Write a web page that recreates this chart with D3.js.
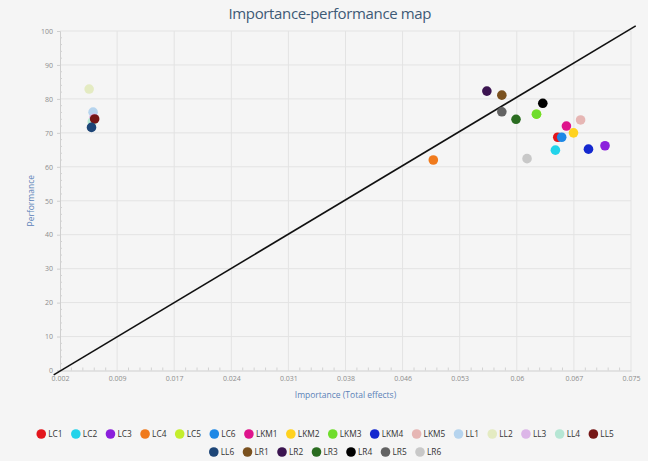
<!DOCTYPE html>
<html>
<head>
<meta charset="utf-8">
<script src="https://cdn.jsdelivr.net/npm/d3@7/dist/d3.min.js"></script>
<style>
  html, body { margin: 0; padding: 0; background: #f5f5f5; }
  svg { display: block; font-family: "Open Sans", "Noto Sans", sans-serif; }
</style>
</head>
<body>
<svg id="chart" width="648" height="461"></svg>
<script>
const seriesNames = ["LC1","LC2","LC3","LC4","LC5","LC6","LKM1","LKM2","LKM3","LKM4","LKM5","LL1","LL2","LL3","LL4","LL5","LL6","LR1","LR2","LR3","LR4","LR5","LR6"];
const seriesColors = ["#e3161c","#22d3ea","#8b1fdc","#f07a1c","#c4ee2c","#1e88e6","#de148c","#ffd21f","#6fdd2b","#1428cf","#e6b6b4","#b6d4ee","#e4ebc2","#dcb6e8","#b6e6d4","#751616","#1d4577","#7a511f","#3b1450","#2a6c20","#000000","#626262","#c8c8c8"];
const importance = [0.0653,0.0650,0.0713,0.0495,0.0626,0.0658,0.0664,0.0673,0.0626,0.0692,0.0682,0.0063,0.0058,0.0064,0.0062,0.0065,0.0061,0.0582,0.0563,0.0600,0.0634,0.0582,0.0614];
const performance = [68.7,64.9,66.2,62.0,75.5,68.7,72.0,70.0,75.5,65.2,73.8,76.1,82.9,74.3,73.2,74.1,71.6,81.1,82.3,74.0,78.7,76.2,62.4];
const xDomain = [0.0021, 0.0746];
const yDomain = [0, 100];
const xTickLabels = ["0.002","0.009","0.017","0.024","0.031","0.038","0.046","0.053","0.06","0.067","0.075"];
const yTickLabels = ["0","10","20","30","40","50","60","70","80","90","100"];
const diagonalX = [0.0013, 0.0752];
const diagonalY = [-1.3, 101.5];

const svg = d3.select("#chart");
const W = 648, H = 461;
const m = {left: 60, right: 17, top: 31, bottom: 90.5};
const x = d3.scaleLinear().domain(xDomain).range([m.left, W - m.right]);
const y = d3.scaleLinear().domain(yDomain).range([H - m.bottom, m.top]);

const nX = xTickLabels.length - 1;
const xTicks = d3.range(xTickLabels.length).map(i => xDomain[0] + (xDomain[1] - xDomain[0]) * i / nX);
const yTicks = yTickLabels.map(Number);
const xMinor = [];
for (let i = 0; i < nX; i++) for (let k = 1; k < 5; k++) xMinor.push(xTicks[i] + (xTicks[i+1] - xTicks[i]) * k / 5);
const yMinor = [];
for (let i = 0; i < yTicks.length - 1; i++) for (let k = 1; k < 5; k++) yMinor.push(yTicks[i] + (yTicks[i+1] - yTicks[i]) * k / 5);

// title
svg.append("text").attr("x", 330).attr("y", 19).attr("text-anchor", "middle")
  .attr("font-size", 15).attr("fill", "#3e5a76").attr("textLength", 203).text("Importance-performance map");

// grid
const grid = svg.append("g");
grid.selectAll("line.gx").data(xTicks.slice(1)).join("line")
  .attr("x1", d => x(d)).attr("x2", d => x(d)).attr("y1", y(100)).attr("y2", y(0))
  .attr("stroke", "#e3e3e3").attr("stroke-width", 1);
grid.selectAll("line.gy").data(yTicks.slice(1)).join("line")
  .attr("y1", d => y(d)).attr("y2", d => y(d)).attr("x1", x(xDomain[0])).attr("x2", x(xDomain[1]))
  .attr("stroke", "#e3e3e3").attr("stroke-width", 1);

// axes
const xAxis = d3.axisBottom(x).tickValues(xTicks).tickSize(0).tickPadding(6)
  .tickFormat((d, i) => xTickLabels[i]);
const gx = svg.append("g").attr("transform", `translate(0,${y(0)})`).call(xAxis);
gx.select(".domain").attr("stroke", "#cfcfcf");
gx.selectAll("text").attr("fill", "#8d8d8d").attr("font-size", 7).attr("font-family", "Open Sans, sans-serif");
gx.selectAll("line.minor").data(xMinor).join("line").attr("class", "minor")
  .attr("x1", d => x(d)).attr("x2", d => x(d)).attr("y1", 0).attr("y2", -3).attr("stroke", "#d2d2d2");

const yAxis = d3.axisLeft(y).tickValues(yTicks).tickSize(3).tickPadding(4)
  .tickFormat((d, i) => yTickLabels[i]);
const gy = svg.append("g").attr("transform", `translate(${x(xDomain[0])},0)`).call(yAxis);
gy.select(".domain").attr("stroke", "#cfcfcf");
gy.selectAll(".tick line").attr("stroke", "#cfcfcf");
gy.selectAll("text").attr("fill", "#8d8d8d").attr("font-size", 7).attr("font-family", "Open Sans, sans-serif");
gy.selectAll("line.minor").data(yMinor).join("line").attr("class", "minor")
  .attr("y1", d => y(d)).attr("y2", d => y(d)).attr("x1", 0).attr("x2", 2).attr("stroke", "#d2d2d2");

// axis titles
svg.append("text").attr("x", (x(xDomain[0]) + x(xDomain[1])) / 2).attr("y", 398)
  .attr("text-anchor", "middle").attr("font-size", 8.5).attr("fill", "#5a82b8")
  .text("Importance (Total effects)");
svg.append("text").attr("transform", `translate(34,${(y(0)+y(100))/2}) rotate(-90)`)
  .attr("text-anchor", "middle").attr("font-size", 8.5).attr("fill", "#5a82b8")
  .text("Performance");

// diagonal
svg.append("line")
  .attr("x1", x(diagonalX[0])).attr("y1", y(diagonalY[0]))
  .attr("x2", x(diagonalX[1])).attr("y2", y(diagonalY[1]))
  .attr("stroke", "#111").attr("stroke-width", 1.6);

// points
const pts = seriesNames.map((n, i) => ({name: n, color: seriesColors[i], x: importance[i], y: performance[i]}));
svg.append("g").selectAll("circle").data(pts).join("circle")
  .attr("cx", d => x(d.x)).attr("cy", d => y(d.y)).attr("r", 4.8)
  .attr("fill", d => d.color);

// legend
const rows = [seriesNames.slice(0, 16), seriesNames.slice(16)];
const rowY = [434, 452];
const gap = 8.3;
const legend = svg.append("g").attr("font-size", 8.3).attr("fill", "#333");
rows.forEach((row, ri) => {
  const g = legend.append("g");
  let cx = 0;
  row.forEach(name => {
    const idx = seriesNames.indexOf(name);
    const item = g.append("g").attr("transform", `translate(${cx},0)`);
    item.append("circle").attr("cx", 5).attr("cy", 0).attr("r", 4.8).attr("fill", seriesColors[idx]);
    const t = item.append("text").attr("x", 12).attr("y", 3).attr("fill", "#333").text(name);
    const w = t.node().getComputedTextLength();
    cx += 12 + w + gap;
  });
  const total = cx - gap;
  g.attr("transform", `translate(${(W - total) / 2 + 1},${rowY[ri]})`);
});
</script>
</body>
</html>
